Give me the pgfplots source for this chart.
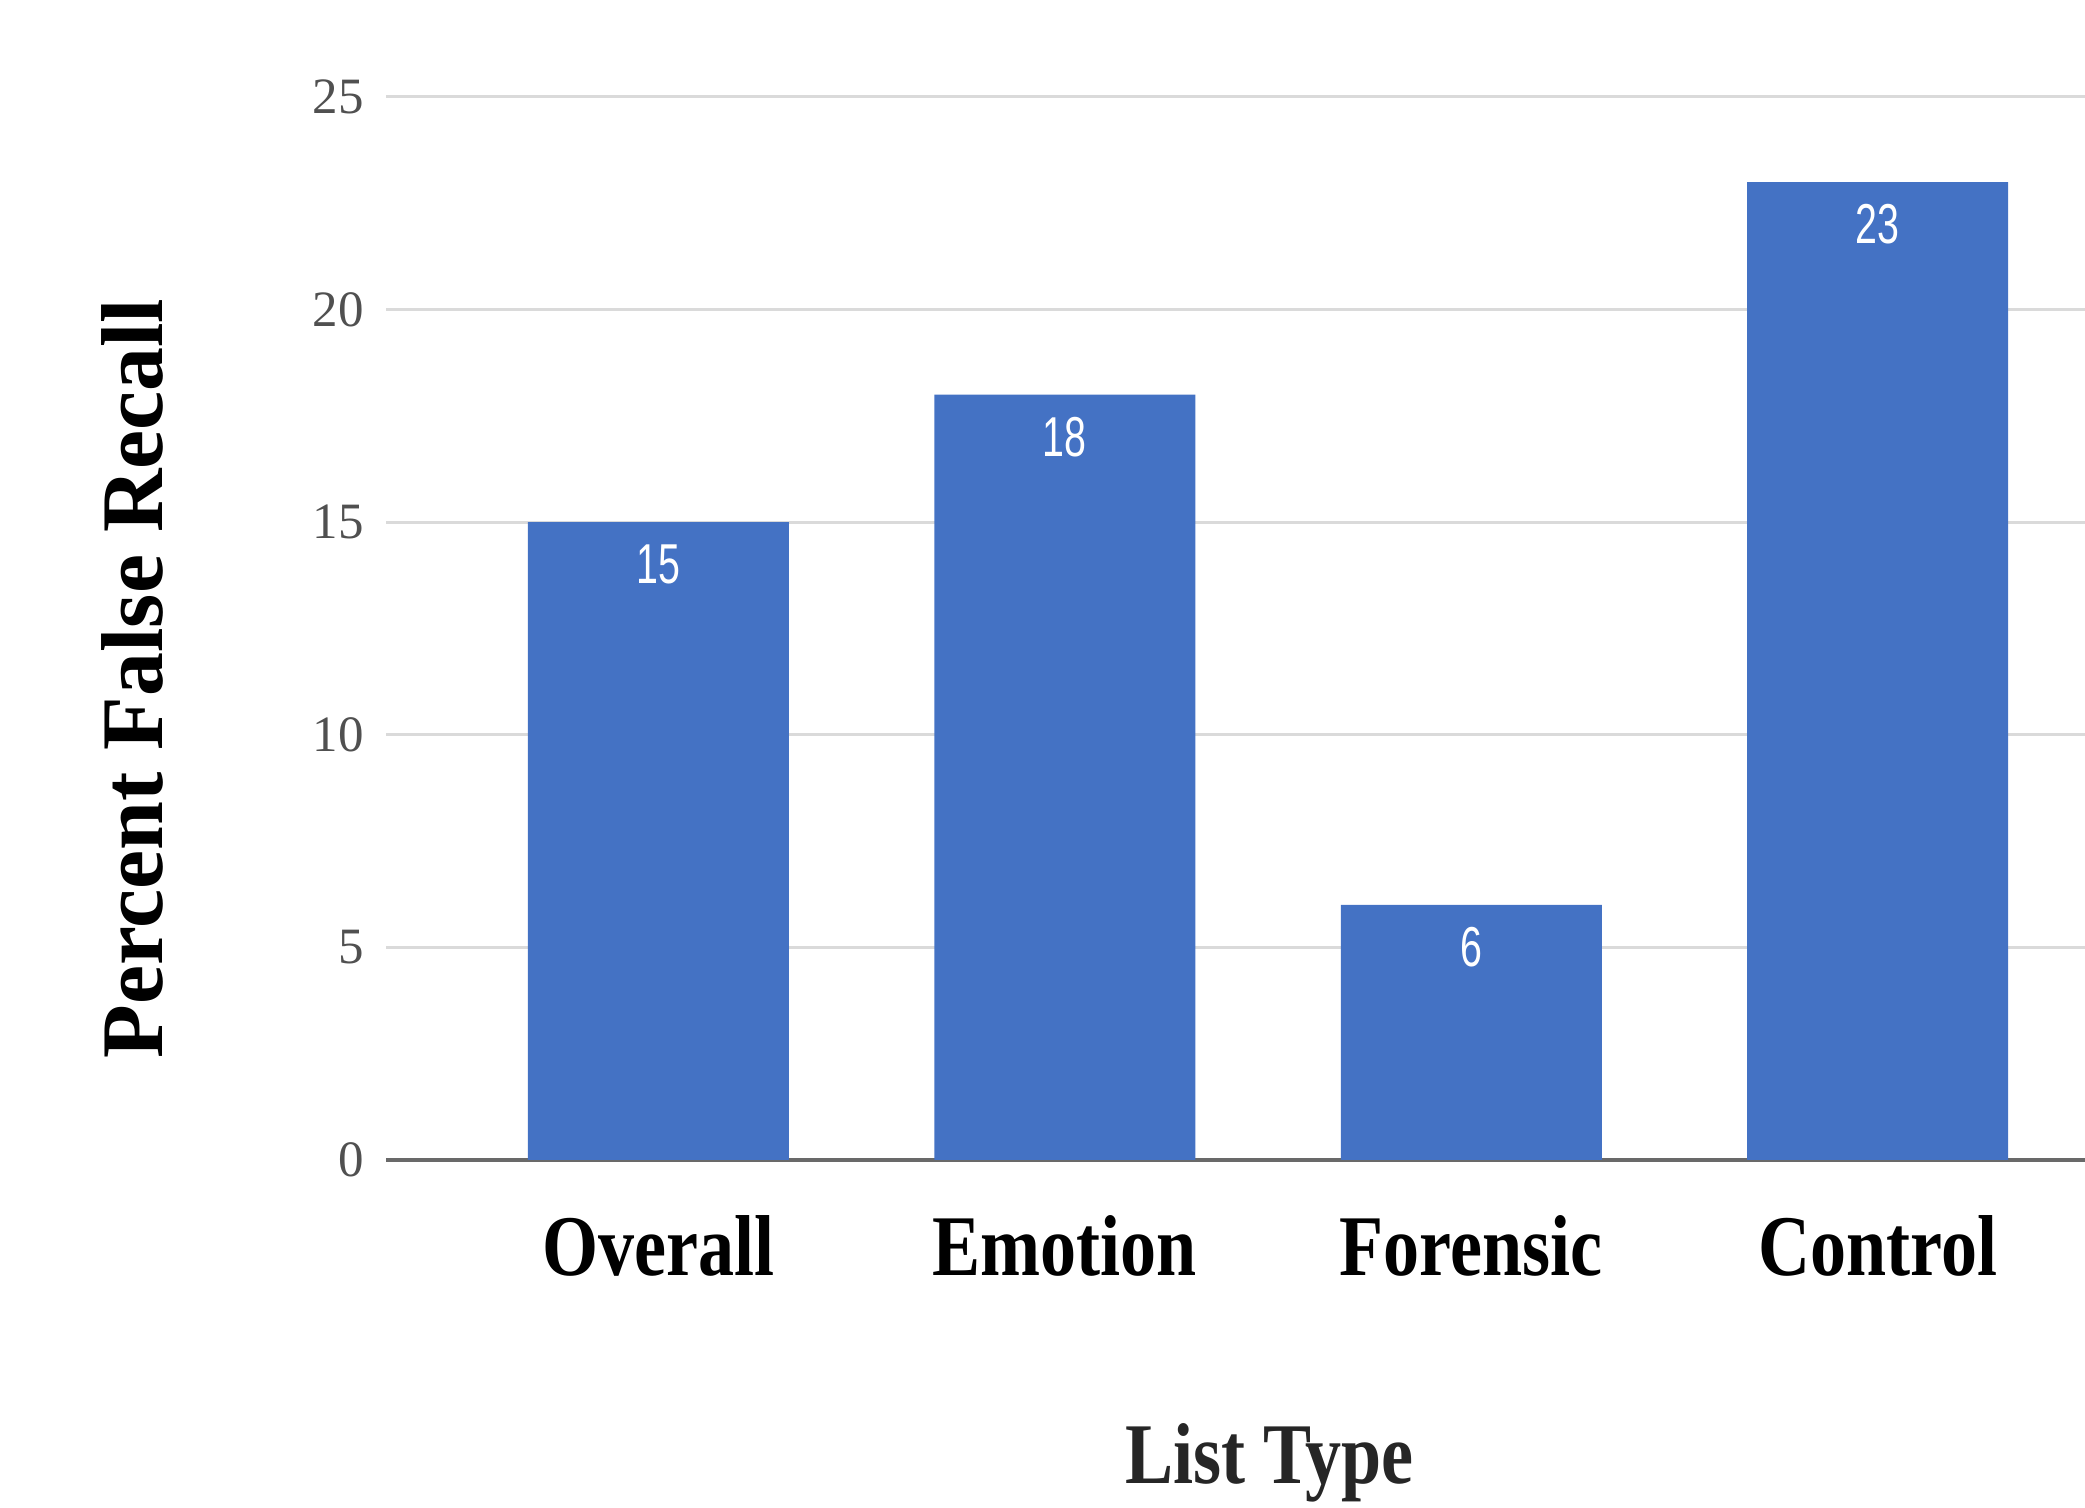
\documentclass[border=0pt]{standalone}
\usepackage{fontspec}
\setmainfont{Liberation Serif}
\newfontfamily\valfont[FakeStretch=0.7]{Liberation Sans}
\usepackage{pgfplots}
\pgfplotsset{compat=1.18}
\usepackage{graphicx}

\definecolor{barblue}{RGB}{68,114,196}
\definecolor{gridgray}{RGB}{218,218,218}
\definecolor{basegray}{RGB}{105,105,105}
\definecolor{ticktext}{RGB}{80,80,80}

\begin{document}
\begin{tikzpicture}
\begin{axis}[
  at={(38.6mm,34.8mm)}, anchor=south west,
  scale only axis,
  width=169.9mm, height=106.3mm,
  xmin=-0.67, xmax=3.51,
  ymin=0, ymax=25,
  axis line style={draw=none},
  major tick length=0pt,
  xtick={0,1,2,3},
  xticklabels={
    {\scalebox{1}[1.2]{\bfseries Overall}},
    {\scalebox{1}[1.2]{\bfseries Emotion}},
    {\scalebox{1}[1.2]{\bfseries Forensic}},
    {\scalebox{1}[1.2]{\bfseries Control}}},
  xticklabel style={font=\fontsize{20.5}{24}\selectfont, text=black,
    anchor=center, yshift=-8.6mm},
  ytick={5,10,15,20,25},
  extra y ticks={0},
  extra y tick style={grid style={draw=basegray, line width=0.45mm}},
  ymajorgrids,
  grid style={draw=gridgray, line width=0.3mm},
  /pgf/number format/assume math mode=true,
  yticklabel style={font=\fontsize{14.5}{17}\selectfont, text=ticktext,
    anchor=east, xshift=-1.0mm},
  ylabel={\bfseries Percent False Recall},
  ylabel style={font=\fontsize{25}{29}\selectfont, text=black,
    at={(axis description cs:-0.149,0.453)}, anchor=center},
  xlabel={\scalebox{1}[1.2]{\bfseries List Type}},
  xlabel style={font=\fontsize{20.5}{24}\selectfont, text=black!85,
    at={(axis description cs:0.520,0)}, anchor=center, yshift=-30.3mm},
  ybar,
  bar width=26.1mm,
  nodes near coords,
  nodes near coords style={font=\valfont\fontsize{16}{18}\selectfont,
    text=white, anchor=center, yshift=-4.25mm},
]
\addplot[fill=barblue, draw=none] coordinates {
  (0,15) (1,18) (2,6) (3,23)
};
\end{axis}
\pgfresetboundingbox
\useasboundingbox (0,0) rectangle (208.5mm,150.8mm);
\end{tikzpicture}
\end{document}
